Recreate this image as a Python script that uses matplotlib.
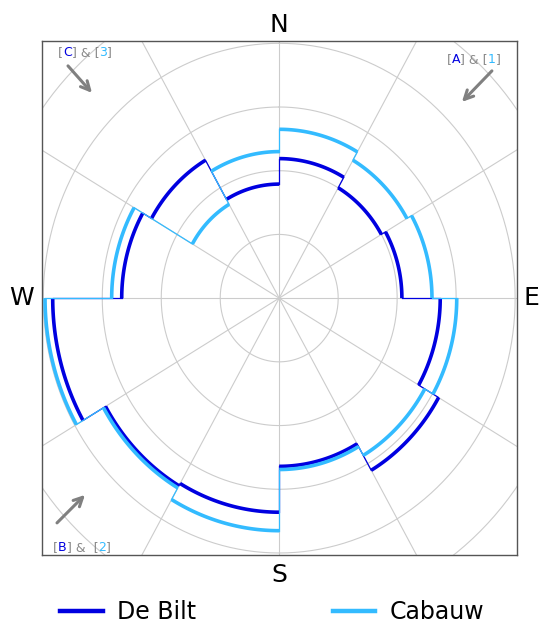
import matplotlib
matplotlib.use("Agg")
import matplotlib.pyplot as plt
from matplotlib.lines import Line2D
from matplotlib.offsetbox import TextArea, HPacker, AnnotationBbox
import numpy as np

# sector start bearings (degrees, clockwise from north), 30 degree wide
sector_start = [0, 30, 60, 90, 120, 150, 180, 210, 240, 270, 300, 330]
de_bilt = [2.19, 2.00, 2.08, 2.73, 3.12, 2.64, 3.36, 3.40, 3.84, 2.67, 2.50, 1.79]
cabauw = [2.65, 2.50, 2.59, 3.01, 2.85, 2.69, 3.65, 3.44, 3.97, 2.84, 1.70, 2.30]
series_names = ["De Bilt", "Cabauw"]
compass = ["N", "E", "S", "W"]

c_bilt = "#0000e0"
c_cab = "#33bbff"
c_grid = "#cccccc"
c_note = "#888888"
width = 30


def to_xy(theta_deg, r):
    t = np.radians(theta_deg)
    return r * np.sin(t), r * np.cos(t)


fig = plt.figure(figsize=(5.39, 6.27), dpi=100)
ax = fig.add_axes([0.077, 0.115, 0.882, 0.819])
lim = 4.03
ax.set_xlim(-lim, lim)
ax.set_ylim(-lim, lim)
ax.set_xticks([])
ax.set_yticks([])
for sp in ax.spines.values():
    sp.set_color("#555555")
    sp.set_linewidth(1.0)

# grid: rings and spokes
tt = np.linspace(0, 360, 361)
for r in range(1, 6):
    x, y = to_xy(tt, r)
    ax.plot(x, y, color=c_grid, lw=0.8, zorder=1)
for a in range(0, 360, 30):
    x, y = to_xy(np.array([a, a]), np.array([0, 6]))
    ax.plot(x, y, color=c_grid, lw=0.8, zorder=1)


def draw_rose(values, color, z):
    n = len(values)
    for i in range(n):
        th = np.linspace(sector_start[i], sector_start[i] + width, 60)
        x, y = to_xy(th, values[i])
        ax.plot(x, y, color=color, lw=2.6, solid_capstyle="butt", zorder=z)
        edge = sector_start[i] + width
        nxt = values[(i + 1) % n]
        x, y = to_xy(np.array([edge, edge]), np.array([values[i], nxt]))
        ax.plot(x, y, color=color, lw=0.9, zorder=z)


draw_rose(de_bilt, c_bilt, 3)
draw_rose(cabauw, c_cab, 4)

# compass labels
pos = {"N": (0.5, 1.032), "E": (1.0315, 0.5), "S": (0.5, -0.039), "W": (-0.041, 0.5)}
for lab in compass:
    ax.text(pos[lab][0], pos[lab][1], lab, transform=ax.transAxes, ha="center",
            va="center", fontsize=18, clip_on=False)


# corner notes with coloured pieces
def note(pieces, xy):
    boxes = [TextArea(s, textprops=dict(color=c, fontsize=9)) for s, c in pieces]
    pack = HPacker(children=boxes, align="baseline", pad=0, sep=0)
    ab = AnnotationBbox(pack, xy, xycoords="axes fraction", frameon=False,
                        box_alignment=(0.5, 0.5))
    ax.add_artist(ab)


def arrow(start, end):
    ax.annotate("", xy=end, xytext=start, xycoords="axes fraction",
                textcoords="axes fraction",
                arrowprops=dict(arrowstyle="->", color="#808080", lw=2.2,
                                mutation_scale=16, shrinkA=0, shrinkB=0))


def frac(px, py):
    return ((px - 41.5) / 475.5, (555 - py) / 513.5)


note([("[", c_note), ("C", c_bilt), ("] & [", c_note), ("3", c_cab), ("]", c_note)], frac(85, 53))
arrow(frac(68, 66), frac(92, 93))
note([("[", c_note), ("A", c_bilt), ("] & [", c_note), ("1", c_cab), ("]", c_note)], frac(474, 60))
arrow(frac(492, 71), frac(462, 102))
note([("[", c_note), ("B", c_bilt), ("] &  [", c_note), ("2", c_cab), ("]", c_note)], frac(82, 548))
arrow(frac(57, 523), frac(85, 495))

handles = [Line2D([], [], color=c_bilt, lw=3.2), Line2D([], [], color=c_cab, lw=3.2)]
fig.legend(handles, series_names, loc="center", bbox_to_anchor=(0.505, 0.024), ncol=2,
           frameon=False, fontsize=17, handlelength=1.8, handletextpad=0.6,
           columnspacing=5.8)

fig.savefig("out.png", dpi=100)
